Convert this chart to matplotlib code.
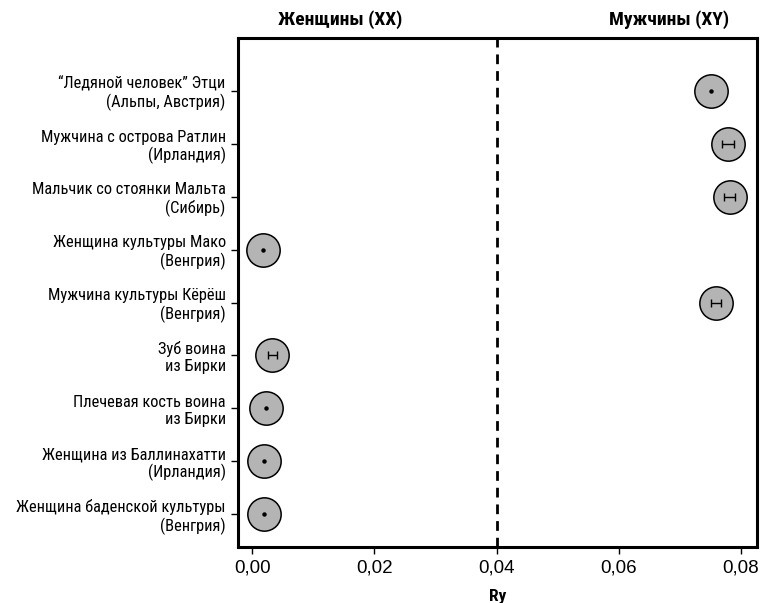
import matplotlib
matplotlib.use("Agg")
import matplotlib.pyplot as plt
from matplotlib import font_manager

# condensed font if present, otherwise Roboto
def pick_font(names):
    for n in names:
        try:
            font_manager.findfont(n, fallback_to_default=False)
            return n
        except Exception:
            pass
    return "DejaVu Sans"

NARROW = pick_font(["Liberation Sans Narrow", "Roboto Condensed", "Roboto"])
REGULAR = pick_font(["Liberation Sans", "Roboto"])

samples = [
    "\u201cЛедяной человек\u201d Этци\n(Альпы, Австрия)",
    "Мужчина с острова Ратлин\n(Ирландия)",
    "Мальчик со стоянки Мальта\n(Сибирь)",
    "Женщина культуры Мако\n(Венгрия)",
    "Мужчина культуры Кёрёш\n(Венгрия)",
    "Зуб воина\nиз Бирки",
    "Плечевая кость воина\nиз Бирки",
    "Женщина из Баллинахатти\n(Ирландия)",
    "Женщина баденской культуры\n(Венгрия)",
]
ry = [0.0751, 0.0779, 0.0782, 0.0018, 0.0759, 0.0033, 0.0023, 0.0020, 0.0020]
ry_err = [0.0000, 0.0010, 0.0009, 0.0000, 0.0008, 0.0008, 0.0000, 0.0000, 0.0000]
threshold = 0.04
xticks = [0.00, 0.02, 0.04, 0.06, 0.08]
xticklabels = ["0,00", "0,02", "0,04", "0,06", "0,08"]

fig = plt.figure(figsize=(7.66, 6.03), dpi=100)
ax = fig.add_axes([0.311, 0.093, 0.677, 0.844])

ypos = list(range(len(samples)))
ax.plot(ry, ypos, "o", markersize=24, markerfacecolor="#b4b4b4",
        markeredgecolor="black", markeredgewidth=1.1, linestyle="none", zorder=2)

# error bars where there is an interval, a dot otherwise
for x, y, e in zip(ry, ypos, ry_err):
    if e > 0:
        ax.errorbar([x], [y], xerr=[e], fmt="none", ecolor="black",
                    elinewidth=1.0, capsize=3, capthick=1.0, zorder=3)
    else:
        ax.plot([x], [y], "o", color="black", markersize=2.2, zorder=3)

ax.axvline(threshold, color="black", linestyle=(0, (3.5, 2.5)), linewidth=2, zorder=1)

ax.set_xlim(-0.0023, 0.0826)
ax.set_ylim(8.62, -1.0)
ax.set_yticks(ypos)
ax.set_yticklabels(samples, fontfamily=NARROW, fontsize=11.8, ha="right",
                   multialignment="right", linespacing=1.15)
ax.set_xticks(xticks)
ax.set_xticklabels(xticklabels, fontfamily=REGULAR, fontsize=13.5)
ax.tick_params(axis="both", direction="out", length=5, width=1, colors="black")
ax.tick_params(axis="y", pad=4)
ax.tick_params(axis="x", pad=4)

for s in ax.spines.values():
    s.set_linewidth(2.2)

ax.set_xlabel("Ry", fontfamily=NARROW, fontweight="bold", fontsize=12.5, labelpad=9)

ax.text(0.0144, -1.34, "Женщины (XX)", ha="center", va="center",
        fontfamily=NARROW, fontweight="bold", fontsize=14, clip_on=False)
ax.text(0.0682, -1.34, "Мужчины (XY)", ha="center", va="center",
        fontfamily=NARROW, fontweight="bold", fontsize=14, clip_on=False)

fig.savefig("out.png", dpi=100)
